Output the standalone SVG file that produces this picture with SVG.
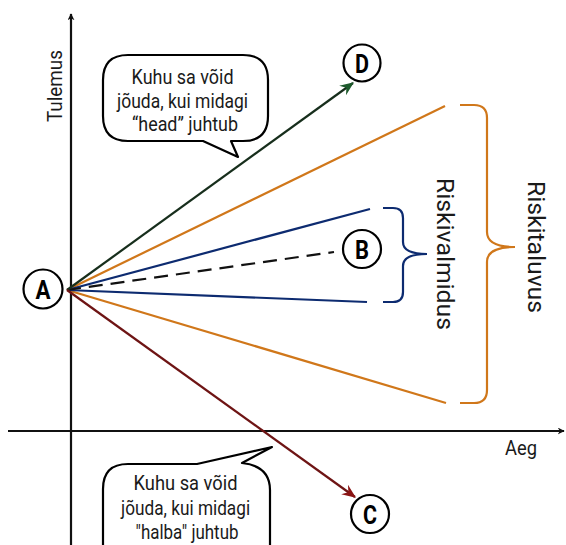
<svg xmlns="http://www.w3.org/2000/svg" width="566" height="545" viewBox="0 0 566 545">
  <style>
    .txt { font-family: "Liberation Sans Narrow", "Roboto", "Liberation Sans", sans-serif; fill: #1a1a1a; }
    .bubble { fill: #ffffff; stroke: #000000; stroke-width: 2.2; stroke-linejoin: round; }
    .circle { fill: #ffffff; stroke: #000000; stroke-width: 2.2; }
    .letter { font-family: "Roboto", "Liberation Sans", sans-serif; font-weight: bold; font-size: 26px; fill: #000000; text-anchor: middle; }
    .axis { stroke: #111111; stroke-width: 2.2; fill: none; }
    .ray { stroke-width: 2.2; fill: none; }
  </style>
  <defs>
    <marker id="arrAxis" viewBox="0 0 10 10" refX="9" refY="5" markerWidth="7" markerHeight="7" markerUnits="userSpaceOnUse" orient="auto">
      <path d="M0,0 L10,5 L0,10 L3,5 Z" fill="#111111"/>
    </marker>
    <marker id="arrGreen" viewBox="0 0 12 10" refX="11" refY="5" markerWidth="14" markerHeight="12" markerUnits="userSpaceOnUse" orient="auto">
      <path d="M0,0 L12,5 L0,10 L4,5 Z" fill="#1d5a2c"/>
    </marker>
    <marker id="arrRed" viewBox="0 0 12 10" refX="11" refY="5" markerWidth="14" markerHeight="12" markerUnits="userSpaceOnUse" orient="auto">
      <path d="M0,0 L12,5 L0,10 L4,5 Z" fill="#8a1414"/>
    </marker>
  </defs>

  <!-- axes -->
  <g id="axes">
    <line class="axis" x1="71" y1="545" x2="71" y2="14" marker-end="url(#arrAxis)"/>
    <line class="axis" x1="8" y1="431" x2="564" y2="431" marker-end="url(#arrAxis)"/>
    <text class="txt" x="0" y="0" font-size="21" text-anchor="middle" textLength="72" lengthAdjust="spacingAndGlyphs" transform="translate(62,86) rotate(-90)">Tulemus</text>
    <text class="txt" x="521" y="455" font-size="21" text-anchor="middle" textLength="32" lengthAdjust="spacingAndGlyphs">Aeg</text>
  </g>

  <!-- connectors: outcome rays from A -->
  <g id="connectors">
    <line class="ray" x1="67" y1="290" x2="445" y2="106" stroke="#d0771a"/>
    <line class="ray" x1="67" y1="290" x2="446" y2="403" stroke="#d0771a"/>
    <line class="ray" x1="67" y1="290" x2="370" y2="209" stroke="#0d2b70"/>
    <line class="ray" x1="67" y1="290" x2="367" y2="302" stroke="#0d2b70"/>
    <line class="ray" x1="67" y1="290" x2="334" y2="252" stroke="#111111" stroke-dasharray="14 8"/>
    <line class="ray" x1="67" y1="290" x2="353" y2="83" stroke="#172e1c" marker-end="url(#arrGreen)"/>
    <line class="ray" x1="67" y1="290" x2="355" y2="497" stroke="#6e1414" marker-end="url(#arrRed)"/>
  </g>

  <!-- braces -->
  <g id="brace-taluvus">
    <path d="M460,105 L474,105 Q487,105 487,118 L487,232 Q487,247 515,247 Q487,247 487,262 L487,390 Q487,403 474,403 L460,403" fill="none" stroke="#d0771a" stroke-width="2.2"/>
    <text class="txt" x="0" y="0" font-size="23" text-anchor="middle" textLength="132" lengthAdjust="spacingAndGlyphs" transform="translate(528,247) rotate(90)">Riskitaluvus</text>
  </g>
  <g id="brace-valmidus">
    <path d="M383,208 L393,208 Q403,208 403,218 L403,242 Q403,254 427,254 Q403,254 403,266 L403,292 Q403,302 393,302 L383,302" fill="none" stroke="#0d2b70" stroke-width="2.2"/>
    <text class="txt" x="0" y="0" font-size="23" text-anchor="middle" textLength="152" lengthAdjust="spacingAndGlyphs" transform="translate(437,254) rotate(90)">Riskivalmidus</text>
  </g>

  <!-- points -->
  <g id="node-A">
    <circle class="circle" cx="43" cy="289" r="19.5"/>
    <text class="letter" x="43" y="298.5" textLength="15" lengthAdjust="spacingAndGlyphs">A</text>
  </g>
  <g id="node-B">
    <circle class="circle" cx="362" cy="249" r="19"/>
    <text class="letter" x="362" y="258.5" textLength="14" lengthAdjust="spacingAndGlyphs">B</text>
  </g>
  <g id="node-C">
    <circle class="circle" cx="370" cy="514" r="19"/>
    <text class="letter" x="370" y="523.5" textLength="14" lengthAdjust="spacingAndGlyphs">C</text>
  </g>
  <g id="node-D">
    <circle class="circle" cx="362" cy="63" r="18.5"/>
    <text class="letter" x="362" y="72.5" textLength="14" lengthAdjust="spacingAndGlyphs">D</text>
  </g>

  <!-- callout: good outcome -->
  <g id="callout-head">
    <path class="bubble" d="M128,55 L243,55 Q268,55 268,80 L268,116 Q268,141 243,141 L231,141 L238,157 L203,141 L128,141 Q103,141 103,116 L103,80 Q103,55 128,55 Z"/>
    <text class="txt" font-size="19.5" text-anchor="middle">
      <tspan x="185" y="84" textLength="102" lengthAdjust="spacingAndGlyphs">Kuhu sa võid</tspan>
      <tspan x="185" y="108" textLength="131" lengthAdjust="spacingAndGlyphs">jõuda, kui midagi</tspan>
      <tspan x="185" y="131" textLength="106" lengthAdjust="spacingAndGlyphs">“head” juhtub</tspan>
    </text>
  </g>

  <!-- callout: bad outcome -->
  <g id="callout-halba">
    <path class="bubble" d="M128,464 L197,464 L272,447 L242,463 Q270,466 270,490 L270,560 L103,560 L103,489 Q103,464 128,464 Z"/>
    <text class="txt" font-size="19.5" text-anchor="middle">
      <tspan x="188" y="490" textLength="104" lengthAdjust="spacingAndGlyphs">Kuhu sa võid</tspan>
      <tspan x="188" y="515" textLength="129" lengthAdjust="spacingAndGlyphs">jõuda, kui midagi</tspan>
      <tspan x="187" y="539" textLength="103" lengthAdjust="spacingAndGlyphs">"halba" juhtub</tspan>
    </text>
  </g>
</svg>
